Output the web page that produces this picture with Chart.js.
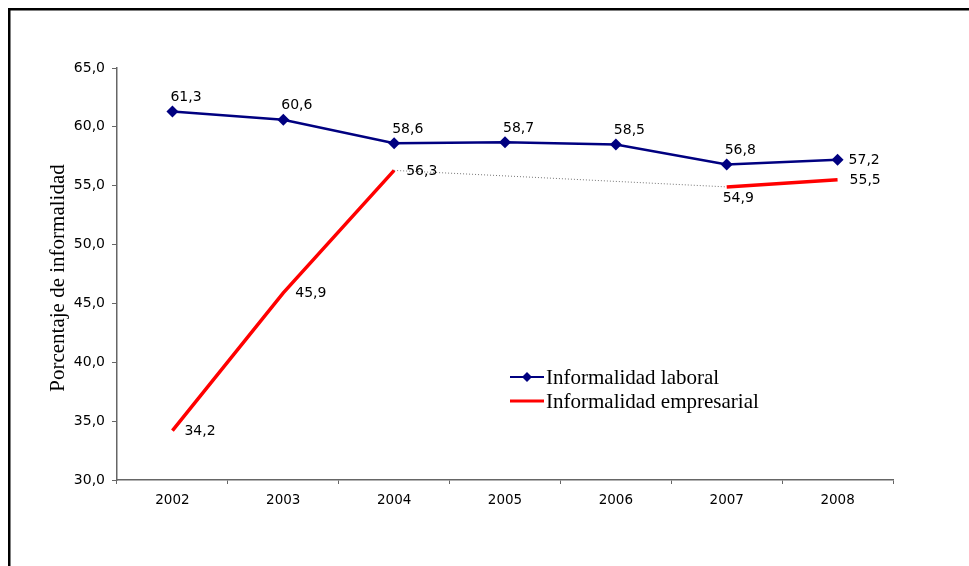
<!DOCTYPE html>
<html>
<head>
<meta charset="utf-8">
<script src="https://cdn.jsdelivr.net/npm/chart.js@4/dist/chart.umd.min.js"></script>
<style>
  html, body { margin: 0; padding: 0; background: #fff; }
  #wrap { position: relative; width: 969px; height: 566px; }
  canvas { display: block; }
</style>
</head>
<body>
<div id="wrap"><canvas id="c" width="969" height="566"></canvas></div>
<script>
// ---- data ----
const years = ['2002', '2003', '2004', '2005', '2006', '2007', '2008'];
const laboral = [61.3, 60.6, 58.6, 58.7, 58.5, 56.8, 57.2];
const empresarial = [34.2, 45.9, 56.3, null, null, 54.9, 55.5];
const seriesNames = ['Informalidad laboral', 'Informalidad empresarial'];
const yTicksMin = 30, yTicksMax = 65, yTicksStep = 5;
const yTitle = 'Porcentaje de informalidad';

const fmt = v => v.toFixed(1).replace('.', ',');
// a segment spans a gap when the value just before its end point is missing
const isGap = ctx => {
  const d = ctx.chart.data.datasets[ctx.datasetIndex].data;
  return d[ctx.p0DataIndex] == null;
};

const framePlugin = {
  id: 'frame',
  beforeDraw(chart) {
    const c = chart.ctx;
    c.save();
    c.fillStyle = '#fff';
    c.fillRect(0, 0, chart.width, chart.height);
    c.strokeStyle = '#000';
    c.lineWidth = 2.5;
    c.beginPath();
    c.moveTo(9.25, chart.height + 5);
    c.lineTo(9.25, 9.25);
    c.lineTo(chart.width + 5, 9.25);
    c.stroke();
    c.restore();
  }
};

const labelsPlugin = {
  id: 'dataLabels',
  afterDatasetsDraw(chart) {
    const c = chart.ctx;
    c.save();
    c.font = '14px "DejaVu Sans"';
    c.fillStyle = '#000';
    const m0 = chart.getDatasetMeta(0);
    m0.data.forEach((pt, i) => {
      const v = chart.data.datasets[0].data[i];
      if (v == null) return;
      c.textBaseline = 'middle';
      c.textAlign = 'left';
      if (i === m0.data.length - 1) {
        c.fillText(fmt(v), pt.x + 11, pt.y + 1);
      } else {
        c.fillText(fmt(v), pt.x - 2, pt.y - 14);
      }
    });
    const m1 = chart.getDatasetMeta(1);
    m1.data.forEach((pt, i) => {
      const v = chart.data.datasets[1].data[i];
      if (v == null) return;
      c.textBaseline = 'middle';
      c.textAlign = 'left';
      if (i === 5) {
        c.fillText(fmt(v), pt.x - 4, pt.y + 11);
      } else {
        c.fillText(fmt(v), pt.x + 12, pt.y + 1);
      }
    });
    c.restore();
  }
};

const legendTitlePlugin = {
  id: 'legendTitle',
  afterDraw(chart) {
    const c = chart.ctx;
    c.save();
    c.font = '21px "Liberation Serif"';
    c.fillStyle = '#000';
    c.translate(64, 278);
    c.rotate(-Math.PI / 2);
    c.textAlign = 'center';
    c.textBaseline = 'alphabetic';
    c.fillText(yTitle, 0, 0);
    c.restore();

    c.save();
    const ds = chart.data.datasets;
    const rows = [377, 401];
    ds.forEach((d, i) => {
      const y = rows[i];
      c.strokeStyle = d.borderColor;
      c.lineWidth = i === 0 ? 2 : 3;
      c.beginPath();
      c.moveTo(510, y);
      c.lineTo(544, y);
      c.stroke();
      if (i === 0) {
        c.fillStyle = d.pointBackgroundColor;
        c.beginPath();
        c.moveTo(527, y - 5);
        c.lineTo(532, y);
        c.lineTo(527, y + 5);
        c.lineTo(522, y);
        c.closePath();
        c.fill();
      }
      c.font = '21px "Liberation Serif"';
      c.fillStyle = '#000';
      c.textAlign = 'left';
      c.textBaseline = 'middle';
      c.fillText(d.label, 546, y + 1);
    });
    c.restore();
  }
};

new Chart(document.getElementById('c'), {
  type: 'line',
  data: {
    labels: years,
    datasets: [
      {
        label: seriesNames[0],
        data: laboral,
        borderColor: '#000080',
        backgroundColor: '#000080',
        pointBackgroundColor: '#000080',
        pointBorderColor: '#000080',
        borderWidth: 2.5,
        pointStyle: 'rectRot',
        pointRadius: 6,
        pointBorderWidth: 0,
        tension: 0
      },
      {
        label: seriesNames[1],
        data: empresarial,
        borderColor: '#ff0000',
        backgroundColor: '#ff0000',
        borderWidth: 3.5,
        pointRadius: 0,
        spanGaps: true,
        tension: 0,
        segment: {
          borderColor: ctx => isGap(ctx) ? '#777777' : undefined,
          borderWidth: ctx => isGap(ctx) ? 1 : undefined,
          borderDash: ctx => isGap(ctx) ? [1, 2] : undefined
        }
      }
    ]
  },
  options: {
    responsive: false,
    animation: false,
    devicePixelRatio: 1,
    layout: { padding: { left: 0, top: 68, right: 76, bottom: 0 } },
    plugins: {
      legend: { display: false },
      tooltip: { enabled: false },
      title: { display: false }
    },
    scales: {
      x: {
        offset: true,
        grid: {
          offset: true,
          drawOnChartArea: false,
          drawTicks: true,
          tickLength: 4,
          color: '#666'
        },
        border: { display: true, color: '#666', width: 1.5 },
        ticks: {
          font: { family: 'DejaVu Sans', size: 13.5 },
          color: '#000',
          padding: 8,
          maxRotation: 0
        },
        afterFit: s => { s.height = 86; }
      },
      y: {
        min: yTicksMin,
        max: yTicksMax,
        grid: {
          drawOnChartArea: false,
          drawTicks: true,
          tickLength: 5,
          color: '#666'
        },
        border: { display: true, color: '#666', width: 1.5 },
        ticks: {
          stepSize: yTicksStep,
          font: { family: 'DejaVu Sans', size: 14 },
          color: '#000',
          padding: 7,
          callback: v => fmt(v)
        },
        afterFit: s => { s.width = 117; }
      }
    }
  },
  plugins: [framePlugin, labelsPlugin, legendTitlePlugin]
});
</script>
</body>
</html>
